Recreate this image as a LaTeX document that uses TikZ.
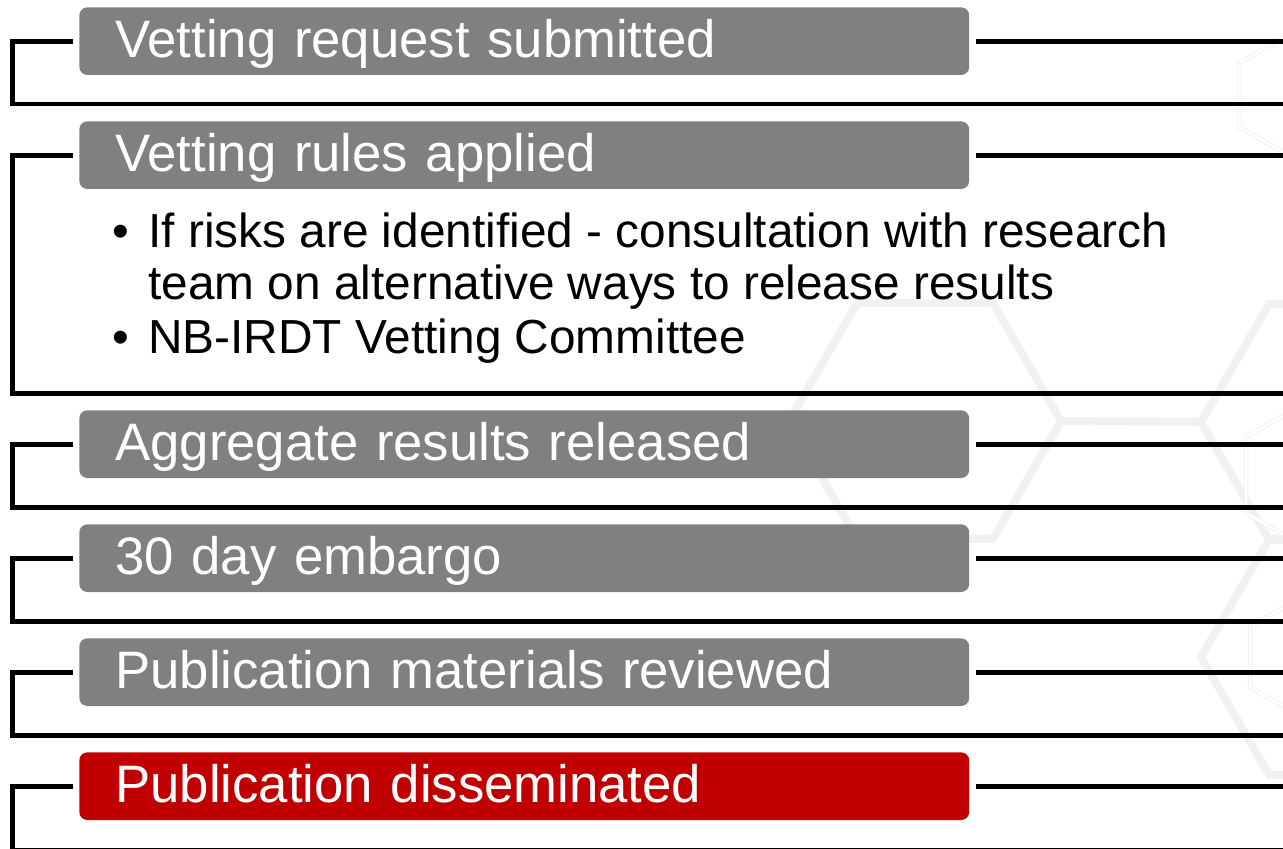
\documentclass[tikz,border=0pt]{standalone}
\usepackage{fontspec}
\setmainfont{Liberation Sans}
\definecolor{stepgrey}{HTML}{808080}
\definecolor{stepred}{HTML}{C00000}
\definecolor{hexgrey}{HTML}{F1F1F1}

\begin{document}
\begin{tikzpicture}[x=0.02cm,y=-0.02cm,
	stepbox/.style={rounded corners=0.16cm,fill=stepgrey,text=white,anchor=north west,
		minimum width=17.8cm,text width=16.36cm,align=left,inner xsep=0.72cm,inner ysep=0pt,
		text height=28.3pt,text depth=10.2pt,font=\fontsize{30}{36}\selectfont},
	rail/.style={line width=0.1cm},
	bodytext/.style={anchor=base west,inner sep=0pt,font=\fontsize{27.2}{32}\selectfont},
	hexline/.style={draw=hexgrey,line width=0.16cm},
	hexthin/.style={draw=hexgrey,line width=0.02cm,double=white,double distance=0.05cm}]
		\useasboundingbox (0,0) rectangle (1283,848);
		% faint honeycomb in the back
		\foreach \cx/\cy in {925/421, 1337/422, 1337/657}
			\draw[hexline,shift={(\cx,\cy)}] (0:136)--(60:136)--(120:136)--(180:136)--(240:136)--(300:136)--cycle;
		\draw[hexline] (1061,421)--(1201,422);
		\foreach \cx/\cy/\s in {1295/95/64, 1312/475/76, 1302/657/60}
			\draw[hexthin,shift={(\cx,\cy)}] (30:\s)--(90:\s)--(150:\s)--(210:\s)--(270:\s)--(330:\s)--cycle;
		
		\node[stepbox] (req) at (79,7) {Vetting request submitted};
		\node[stepbox] (rules) at (79,121) {Vetting rules applied};
		\node[stepbox] (agg) at (79,410) {Aggregate results released};
		\node[stepbox] (embargo) at (79,524) {30 day embargo};
		\node[stepbox] (review) at (79,638) {Publication materials reviewed};
		\node[stepbox,fill=stepred] (dissem) at (79,752) {Publication disseminated};
		
		\node[bodytext] (risk) at (148,247) {\llap{\textbullet\hspace{11pt}}If risks are identified - consultation with research};
		\node[bodytext] (riskmore) at (148,299) {team on alternative ways to release results};
		\node[bodytext] (committee) at (148,353) {\llap{\textbullet\hspace{11pt}}NB-IRDT Vetting Committee};
		
		% brackets round each step
		\foreach \b/\e in {req/104, rules/393, agg/507, embargo/621, review/735, dissem/850}{
			\coordinate (\b end) at (1290,\e);
			\draw[rail] ([xshift=-0.12cm]\b.west) -- ++(-61,0) |- (\b end);
			\draw[rail] ([xshift=0.12cm]\b.east) -- ++(321,0);
		}
		\end{tikzpicture}
\end{document}
